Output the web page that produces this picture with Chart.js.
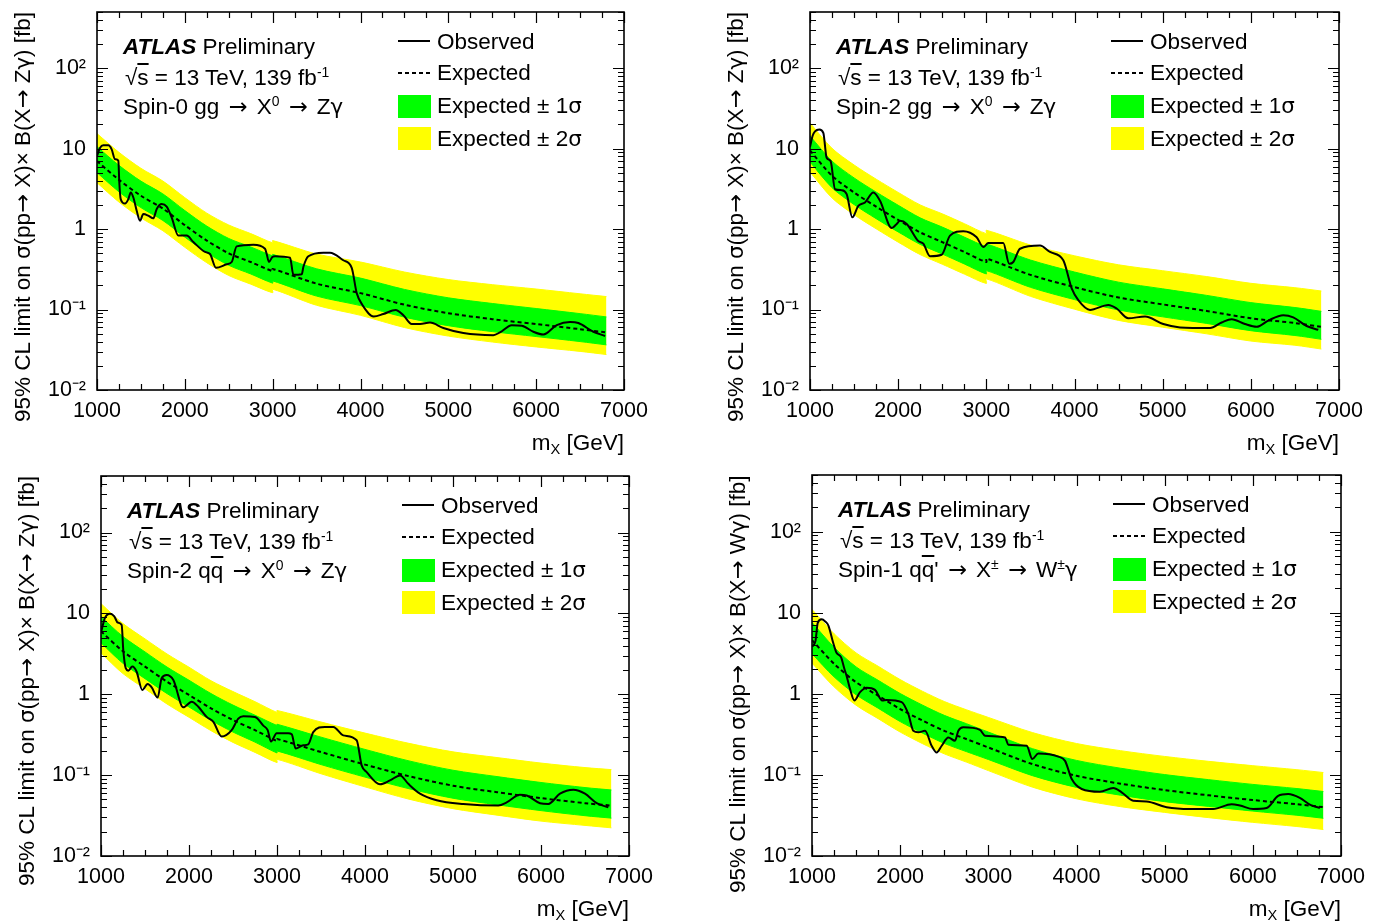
<!DOCTYPE html>
<html>
<head>
<meta charset="utf-8">
<script src="https://cdn.jsdelivr.net/npm/chart.js@4.4.0/dist/chart.umd.min.js"></script>
<style>
  body { margin: 0; background: #fff; width: 1382px; height: 924px; position: relative; overflow: hidden;
         font-family: 'Liberation Sans', Arial, sans-serif; color: #000; }
  canvas { position: absolute; }
  .txt { position: absolute; white-space: nowrap; font-size: 22.5px; line-height: 23px; }
  .txt sup { font-size: 0.62em; vertical-align: 0.6em; line-height: 0; }
  .txt sub { font-size: 0.65em; vertical-align: -0.3em; line-height: 0; }
  .ol { text-decoration: overline; }
  .ar { font-family: 'DejaVu Sans', sans-serif; }
  .txt .ar { margin: 0 3px; }
  .gr { font-family: 'DejaVu Sans', sans-serif; font-size: 0.95em; }
  .ytitle { position: absolute; writing-mode: vertical-rl; text-orientation: sideways; transform: rotate(180deg);
            text-align: end; font-size: 22.5px; line-height: 28px; width: 28px; white-space: nowrap; }
  .lsolid { position: absolute; height: 2px; background: #000; }
  .ldash { position: absolute; height: 2px; background: repeating-linear-gradient(to right, #000 0 4px, transparent 4px 7px); }
  .lbox { position: absolute; }
</style>
</head>
<body>
<canvas id="c0"></canvas>
<canvas id="c1"></canvas>
<canvas id="c2"></canvas>
<canvas id="c3"></canvas>
<script>
// axis ranges and ticks
const xMin = 1000, xMax = 7000;
const yMin = 0.01, yMax = 500;
const xTickValues = [1000, 2000, 3000, 4000, 5000, 6000, 7000];
const yTickValues = [0.01, 0.1, 1, 10, 100];
const yTickLabels = ['10\u207B\u00B2', '10\u207B\u00B9', '1', '10', '10\u00B2'];

// mass points of the expected limit and bands (two analyses meet at 3000 GeV)
const massGrid = [1000, 1250, 1500, 1750, 2000, 2250, 2500, 2750, 3000, 3000, 3500, 4000, 4500, 5000, 5500, 6000, 6500, 6800];
const massGridW = [1000, 1250, 1500, 1750, 2000, 2250, 2500, 2750, 3000, 3500, 4000, 4500, 5000, 5500, 6000, 6500, 6800];

// Spin-0 gg -> X0 -> Zgamma
const expS0 = [7.0, 4.1, 2.6, 1.8, 1.12, 0.72, 0.50, 0.39, 0.30, 0.32, 0.21, 0.16, 0.115, 0.090, 0.076, 0.066, 0.057, 0.052];
const p1S0 = [10.6, 6.2, 3.95, 2.74, 1.70, 1.09, 0.765, 0.60, 0.465, 0.486, 0.321, 0.246, 0.178, 0.140, 0.119, 0.103, 0.089, 0.081];
const m1S0 = [5.04, 2.91, 1.85, 1.28, 0.795, 0.511, 0.355, 0.277, 0.213, 0.227, 0.147, 0.112, 0.0805, 0.063, 0.0532, 0.0462, 0.040, 0.0364];
const p2S0 = [15.4, 9.0, 5.7, 3.96, 2.46, 1.58, 1.125, 0.88, 0.675, 0.72, 0.49, 0.39, 0.293, 0.236, 0.204, 0.18, 0.157, 0.145];
const m2S0 = [3.78, 2.17, 1.38, 0.954, 0.594, 0.382, 0.265, 0.207, 0.162, 0.179, 0.113, 0.0848, 0.0598, 0.0468, 0.0395, 0.0343, 0.0302, 0.0276];
const obsMassS0 = [1000, 1034, 1072, 1129, 1167, 1205, 1243, 1254, 1270, 1319, 1357, 1384, 1414, 1452, 1490, 1527, 1584, 1641, 1680, 1737,
  1793, 1850, 1926, 2021, 2097, 2230, 2287, 2355, 2477, 2534, 2590, 2780, 2913, 2932, 2958, 2996, 3027, 3198, 3236, 3331,
  3350, 3406, 3577, 3653, 3804, 3900, 3957, 4020, 4150, 4260, 4400, 4488, 4583, 4678, 4791, 4943, 5171, 5512, 5588, 5722,
  5836, 5968, 6082, 6234, 6386, 6480, 6651, 6784];
const obsS0 = [8.1, 10.2, 11.0, 11.0, 9.8, 7.4, 7.1, 3.8, 2.36, 2.08, 2.36, 2.85, 2.47, 1.69, 1.27, 1.54, 1.47, 1.36, 1.78, 2.05,
  1.90, 1.40, 0.83, 0.83, 0.69, 0.52, 0.49, 0.33, 0.365, 0.39, 0.61, 0.64, 0.57, 0.49, 0.39, 0.45, 0.46, 0.44, 0.27, 0.275,
  0.34, 0.46, 0.51, 0.51, 0.41, 0.33, 0.16, 0.115, 0.082, 0.088, 0.099, 0.085, 0.066, 0.066, 0.069, 0.059, 0.051, 0.048, 0.052, 0.064,
  0.063, 0.053, 0.049, 0.064, 0.070, 0.068, 0.053, 0.047];

// Spin-2 gg -> X0 -> Zgamma
const expS2g = [9.5, 4.6, 2.85, 1.9, 1.30, 0.91, 0.69, 0.52, 0.39, 0.43, 0.27, 0.19, 0.141, 0.116, 0.096, 0.078, 0.068, 0.061];
const p1S2g = [14.4, 7.0, 4.33, 2.89, 1.98, 1.38, 1.06, 0.796, 0.605, 0.654, 0.413, 0.293, 0.219, 0.181, 0.150, 0.122, 0.106, 0.095];
const m1S2g = [6.84, 3.27, 2.02, 1.35, 0.923, 0.646, 0.49, 0.369, 0.277, 0.305, 0.189, 0.133, 0.0987, 0.0812, 0.0672, 0.0546, 0.0476, 0.0427];
const p2S2g = [20.9, 10.1, 6.27, 4.18, 2.86, 2.0, 1.55, 1.17, 0.878, 0.968, 0.635, 0.466, 0.36, 0.304, 0.257, 0.212, 0.187, 0.170];
const m2S2g = [5.13, 2.44, 1.51, 1.01, 0.689, 0.482, 0.366, 0.276, 0.211, 0.241, 0.146, 0.101, 0.0733, 0.0603, 0.0499, 0.0406, 0.036, 0.0323];
const obsMassS2g = [1000, 1030, 1057, 1106, 1151, 1189, 1234, 1284, 1359, 1416, 1480, 1548, 1624, 1718, 1794, 1927, 1983, 2021, 2097, 2228,
  2285, 2361, 2493, 2588, 2739, 2890, 2966, 3022, 3192, 3260, 3306, 3382, 3609, 3722, 3873, 3968, 4043, 4176, 4384, 4478,
  4610, 4800, 5007, 5197, 5537, 5669, 5783, 5934, 6066, 6198, 6368, 6481, 6633, 6765];
const obsS2g = [10.5, 14.5, 16.4, 17.3, 15.7, 7.7, 7.0, 3.13, 3.05, 2.72, 1.40, 1.95, 2.14, 2.85, 2.25, 1.03, 1.16, 1.27, 1.16, 0.71,
  0.66, 0.46, 0.48, 0.83, 0.94, 0.79, 0.60, 0.67, 0.67, 0.37, 0.39, 0.57, 0.625, 0.52, 0.41, 0.183, 0.131, 0.099, 0.114, 0.103,
  0.078, 0.082, 0.066, 0.060, 0.059, 0.069, 0.076, 0.066, 0.061, 0.073, 0.085, 0.080, 0.0625, 0.056];

// Spin-2 qqbar -> X0 -> Zgamma
const expS2q = [6.0, 3.4, 2.2, 1.43, 0.98, 0.67, 0.48, 0.36, 0.265, 0.28, 0.193, 0.135, 0.097, 0.074, 0.0615, 0.052, 0.045, 0.042];
const p1S2q = [9.12, 5.17, 3.34, 2.17, 1.49, 1.02, 0.734, 0.551, 0.411, 0.426, 0.295, 0.208, 0.150, 0.115, 0.096, 0.0811, 0.0702, 0.0655];
const m1S2q = [4.32, 2.41, 1.56, 1.02, 0.696, 0.476, 0.341, 0.256, 0.188, 0.199, 0.135, 0.0945, 0.0679, 0.0518, 0.043, 0.0364, 0.0315, 0.0294];
const p2S2q = [13.2, 7.48, 4.84, 3.15, 2.16, 1.47, 1.08, 0.81, 0.596, 0.63, 0.454, 0.331, 0.247, 0.194, 0.165, 0.141, 0.124, 0.117];
const m2S2q = [3.24, 1.80, 1.17, 0.758, 0.519, 0.355, 0.254, 0.191, 0.143, 0.157, 0.104, 0.0716, 0.0504, 0.0385, 0.032, 0.027, 0.0239, 0.0223];
const obsMassS2q = [1000, 1045, 1102, 1151, 1190, 1235, 1253, 1281, 1310, 1356, 1405, 1469, 1530, 1576, 1644, 1689, 1746, 1822, 1935, 2031,
  2106, 2201, 2277, 2371, 2485, 2560, 2617, 2750, 2844, 2894, 2932, 2996, 3128, 3167, 3212, 3298, 3355, 3412, 3545, 3640,
  3753, 3905, 3962, 4019, 4170, 4284, 4398, 4492, 4625, 4814, 5117, 5515, 5610, 5761, 5837, 5989, 6083, 6216, 6367, 6500,
  6633, 6765];
const obsS2q = [5.8, 8.8, 9.9, 9.2, 7.7, 7.2, 3.54, 2.10, 1.96, 2.20, 1.90, 1.13, 1.34, 1.22, 0.91, 1.58, 1.73, 1.50, 0.69, 0.81,
  0.70, 0.525, 0.455, 0.30, 0.36, 0.50, 0.535, 0.525, 0.41, 0.36, 0.26, 0.33, 0.33, 0.32, 0.213, 0.234, 0.24, 0.34, 0.395, 0.395,
  0.31, 0.27, 0.132, 0.109, 0.077, 0.086, 0.099, 0.078, 0.059, 0.049, 0.044, 0.042, 0.046, 0.057, 0.056, 0.045, 0.044, 0.059, 0.066, 0.059,
  0.045, 0.040];

// Spin-1 qqbar' -> X+- -> W+-gamma
const expS1 = [4.6, 2.35, 1.39, 0.95, 0.65, 0.47, 0.35, 0.277, 0.218, 0.136, 0.0975, 0.078, 0.065, 0.056, 0.049, 0.0435, 0.040];
const p1S1 = [7.6, 3.76, 2.15, 1.47, 1.01, 0.729, 0.543, 0.429, 0.338, 0.211, 0.151, 0.121, 0.101, 0.0874, 0.0764, 0.0679, 0.0624];
const m1S1 = [3.13, 1.62, 0.973, 0.665, 0.455, 0.329, 0.245, 0.194, 0.155, 0.0979, 0.0702, 0.0562, 0.0468, 0.0409, 0.0358, 0.0318, 0.0292];
const p2S1 = [11.0, 5.52, 3.2, 2.19, 1.5, 1.08, 0.805, 0.637, 0.512, 0.333, 0.244, 0.199, 0.169, 0.147, 0.130, 0.116, 0.107];
const m2S1 = [2.39, 1.22, 0.723, 0.494, 0.338, 0.244, 0.182, 0.144, 0.113, 0.0707, 0.0507, 0.0406, 0.0345, 0.0297, 0.026, 0.0231, 0.0212];
const obsMassS1 = [1000, 1040, 1065, 1110, 1150, 1185, 1242, 1280, 1329, 1367, 1394, 1431, 1480, 1545, 1620, 1714, 1797, 1847, 2017, 2092,
  2149, 2206, 2282, 2357, 2414, 2471, 2546, 2622, 2660, 2716, 2905, 2962, 3189, 3227, 3435, 3499, 3567, 3794, 3870, 3946,
  4059, 4266, 4417, 4512, 4644, 4795, 5022, 5286, 5551, 5759, 5853, 6004, 6155, 6287, 6401, 6533, 6647, 6760];
const obsS1 = [3.8, 4.5, 7.5, 8.3, 7.8, 7.0, 4.2, 3.18, 2.84, 2.04, 1.64, 1.15, 0.83, 1.05, 1.19, 1.12, 0.83, 0.84, 0.79, 0.565,
  0.35, 0.335, 0.35, 0.229, 0.189, 0.229, 0.29, 0.264, 0.35, 0.386, 0.36, 0.305, 0.29, 0.236, 0.229, 0.157, 0.184, 0.168, 0.149, 0.089,
  0.067, 0.062, 0.069, 0.061, 0.048, 0.047, 0.040, 0.038, 0.038, 0.0435, 0.042, 0.038, 0.039, 0.055, 0.058, 0.052, 0.043, 0.039];

const AR = '<span class="ar">\u2192</span>';
const GAM = '<span class="gr">\u03B3</span>';
const SIG = '<span class="gr">\u03C3</span>';
const yTitleZ = '95% CL limit on ' + SIG + '(pp' + AR + ' X)\u00D7 B(X' + AR + ' Z' + GAM + ') [fb]';
const yTitleW = '95% CL limit on ' + SIG + '(pp' + AR + ' X)\u00D7 B(X' + AR + ' W' + GAM + ') [fb]';

const panels = [
  { canvas: 'c0', box: [0, 0, 660, 460], plot: [97, 12, 624, 390],
    grid: massGrid, exp: expS0, p1: p1S0, m1: m1S0, p2: p2S0, m2: m2S0, obsMass: obsMassS0, obs: obsS0,
    process: 'Spin-0 gg ' + AR + ' X<sup>0</sup> ' + AR + ' Z' + GAM, yTitle: yTitleZ },
  { canvas: 'c1', box: [700, 0, 682, 460], plot: [810, 12, 1339, 390],
    grid: massGrid, exp: expS2g, p1: p1S2g, m1: m1S2g, p2: p2S2g, m2: m2S2g, obsMass: obsMassS2g, obs: obsS2g,
    process: 'Spin-2 gg ' + AR + ' X<sup>0</sup> ' + AR + ' Z' + GAM, yTitle: yTitleZ },
  { canvas: 'c2', box: [0, 462, 660, 462], plot: [101, 476, 629, 856],
    grid: massGrid, exp: expS2q, p1: p1S2q, m1: m1S2q, p2: p2S2q, m2: m2S2q, obsMass: obsMassS2q, obs: obsS2q,
    process: 'Spin-2 q<span class="ol">q</span> ' + AR + ' X<sup>0</sup> ' + AR + ' Z' + GAM, yTitle: yTitleZ },
  { canvas: 'c3', box: [700, 462, 682, 462], plot: [812, 475, 1341, 856],
    grid: massGridW, exp: expS1, p1: p1S1, m1: m1S1, p2: p2S1, m2: m2S1, obsMass: obsMassS1, obs: obsS1,
    process: "Spin-1 q<span class=\"ol\">q</span>' " + AR + ' X<sup>\u00B1</sup> ' + AR + ' W<sup>\u00B1</sup>' + GAM, yTitle: yTitleW },
];

const tickFont = { family: "'Liberation Sans', Arial, sans-serif", size: 21.5 };

// ROOT style frame with inward ticks on all four sides
const frameTicks = {
  id: 'frameTicks',
  afterDraw(chart) {
    const { ctx, chartArea: a, scales: { x, y } } = chart;
    ctx.save();
    ctx.strokeStyle = '#000';
    ctx.lineWidth = 1.2;
    ctx.beginPath();
    for (let m = xMin; m <= xMax; m += 250) {
      const px = Math.round(x.getPixelForValue(m)) + 0.5;
      const len = m % 1000 === 0 ? 11 : 6;
      ctx.moveTo(px, a.bottom); ctx.lineTo(px, a.bottom - len);
      ctx.moveTo(px, a.top); ctx.lineTo(px, a.top + len);
    }
    for (let e = -2; e <= 2; e++) {
      for (let k = 1; k <= 9; k++) {
        const v = k * Math.pow(10, e);
        if (v > yMax) continue;
        const py = Math.round(y.getPixelForValue(v)) + 0.5;
        const len = k === 1 ? 11 : 6;
        ctx.moveTo(a.left, py); ctx.lineTo(a.left + len, py);
        ctx.moveTo(a.right, py); ctx.lineTo(a.right - len, py);
      }
    }
    ctx.stroke();
    ctx.lineWidth = 1.6;
    ctx.strokeRect(a.left, a.top, a.right - a.left, a.bottom - a.top);
    ctx.restore();
  }
};

function addDiv(cls, html, css) {
  const d = document.createElement('div');
  d.className = cls;
  d.innerHTML = html;
  Object.assign(d.style, css);
  document.body.appendChild(d);
  return d;
}

function buildPanel(p) {
  const [bl, bt, bw, bh] = p.box;
  const [pl, pt, pr, pb] = p.plot;
  const canvas = document.getElementById(p.canvas);
  canvas.width = bw;
  canvas.height = bh;
  canvas.style.left = bl + 'px';
  canvas.style.top = bt + 'px';

  const pts = (xs, ys) => xs.map((m, i) => ({ x: m, y: ys[i] }));
  const band = (color) => ({ borderWidth: 1, borderColor: color, pointRadius: 0, tension: 0.3 });

  new Chart(canvas, {
    type: 'line',
    data: {
      datasets: [
        { data: pts(p.obsMass, p.obs), borderColor: '#000', borderWidth: 2, pointRadius: 0,
          cubicInterpolationMode: 'monotone', fill: false, order: 0 },
        { data: pts(p.grid, p.exp), borderColor: '#000', borderWidth: 2, borderDash: [4, 3], pointRadius: 0,
          tension: 0.3, fill: false, order: 1 },
        { data: pts(p.grid, p.p1), ...band('#00ff00'), fill: 3, backgroundColor: '#00ff00', order: 2 },
        { data: pts(p.grid, p.m1), ...band('#00ff00'), fill: false, order: 3 },
        { data: pts(p.grid, p.p2), ...band('#ffff00'), fill: 5, backgroundColor: '#ffff00', order: 4 },
        { data: pts(p.grid, p.m2), ...band('#ffff00'), fill: false, order: 5 },
      ]
    },
    options: {
      responsive: false,
      animation: false,
      devicePixelRatio: 1,
      layout: { padding: { top: pt - bt, right: bl + bw - pr, left: 0, bottom: 0 } },
      plugins: { legend: { display: false }, tooltip: { enabled: false } },
      scales: {
        x: {
          type: 'linear', min: xMin, max: xMax,
          afterBuildTicks: s => { s.ticks = xTickValues.map(v => ({ value: v })); },
          ticks: { font: tickFont, color: '#000', padding: 8, maxRotation: 0, autoSkip: false, callback: v => String(v) },
          grid: { display: false, drawTicks: false },
          border: { display: false },
          afterFit: s => { s.height = bt + bh - pb; s.paddingLeft = 0; s.paddingRight = 0; }
        },
        y: {
          type: 'logarithmic', min: yMin, max: yMax,
          afterBuildTicks: s => { s.ticks = yTickValues.map(v => ({ value: v })); },
          ticks: { font: tickFont, color: '#000', padding: 11, autoSkip: false, callback: (v, i) => yTickLabels[i] },
          grid: { display: false, drawTicks: false },
          border: { display: false },
          afterFit: s => { s.width = pl - bl; s.paddingTop = 0; s.paddingBottom = 0; }
        }
      }
    },
    plugins: [frameTicks]
  });

  // ATLAS label block
  addDiv('txt', '<b><i>ATLAS</i></b> Preliminary', { left: (pl + 26) + 'px', top: (pt + 23) + 'px' });
  addDiv('txt', '\u221A<span class="ol">s</span> = 13 TeV, 139 fb<sup>-1</sup>', { left: (pl + 28) + 'px', top: (pt + 54) + 'px' });
  addDiv('txt', p.process, { left: (pl + 26) + 'px', top: (pt + 83) + 'px' });

  // legend
  const lx = pl + 301;
  addDiv('lsolid', '', { left: lx + 'px', top: (pt + 28) + 'px', width: '32px' });
  addDiv('ldash', '', { left: lx + 'px', top: (pt + 60) + 'px', width: '33px' });
  addDiv('lbox', '', { left: lx + 'px', top: (pt + 83) + 'px', width: '33px', height: '23px', background: '#00ff00' });
  addDiv('lbox', '', { left: lx + 'px', top: (pt + 115) + 'px', width: '33px', height: '23px', background: '#ffff00' });
  addDiv('txt', 'Observed', { left: (lx + 39) + 'px', top: (pt + 18) + 'px' });
  addDiv('txt', 'Expected', { left: (lx + 39) + 'px', top: (pt + 49) + 'px' });
  addDiv('txt', 'Expected \u00B1 1' + SIG, { left: (lx + 39) + 'px', top: (pt + 82) + 'px' });
  addDiv('txt', 'Expected \u00B1 2' + SIG, { left: (lx + 39) + 'px', top: (pt + 115) + 'px' });

  // axis titles
  addDiv('txt', 'm<sub>X</sub> [GeV]', { left: (pr - 200) + 'px', top: (pb + 41) + 'px', width: '200px', textAlign: 'right' });
  addDiv('ytitle', p.yTitle, { left: (pl - 89) + 'px', top: pt + 'px', height: '440px' });
}

panels.forEach(buildPanel);
</script>
</body>
</html>
